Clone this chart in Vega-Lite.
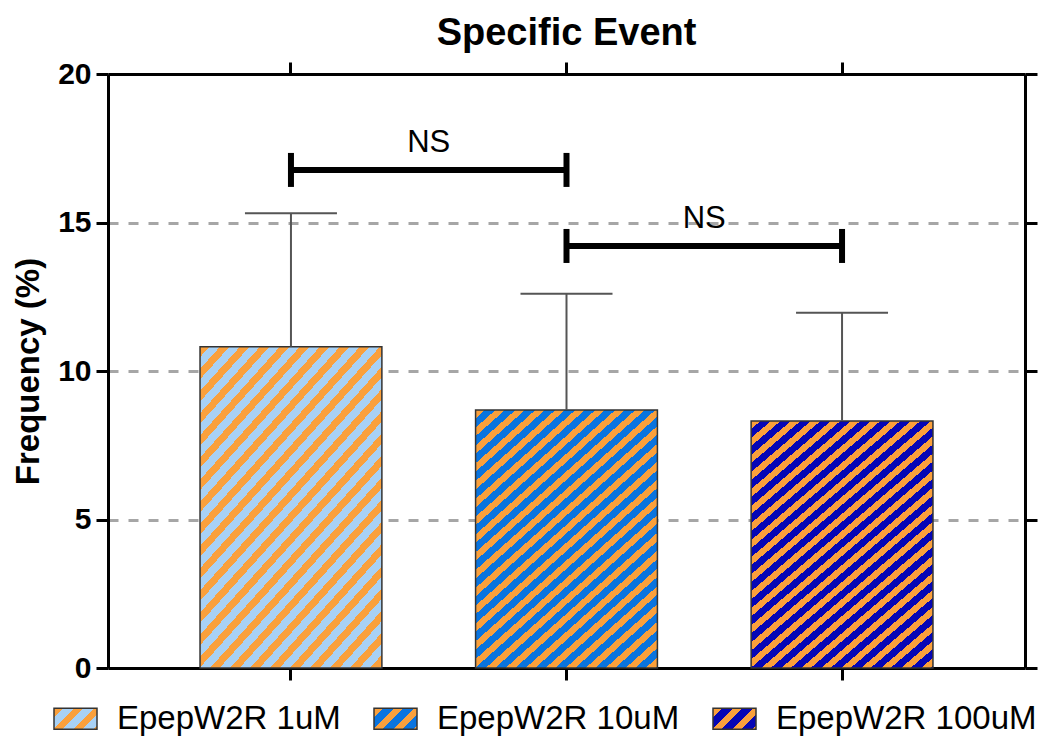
{
  "$schema": "https://vega.github.io/schema/vega-lite/v6.json",
  "width": 917,
  "height": 594,
  "autosize": {"type": "none"},
  "padding": {"left": 108, "top": 74, "right": 19, "bottom": 68},
  "background": "white",
  "title": {"text": "Specific Event", "fontSize": 38, "fontWeight": "bold", "font": "Liberation Sans", "color": "#000", "anchor": "middle", "frame": "group", "baseline": "alphabetic", "offset": -24},
  "params": [
    {"name": "lg1", "value": {"gradient": "linear", "x1": 0, "y1": 0, "x2": 1.2, "y2": 0.587, "stops": [{"offset": 0, "color": "#faa03c"}, {"offset": 0.14, "color": "#faa03c"}, {"offset": 0.14, "color": "#a8d1f5"}, {"offset": 0.3125, "color": "#a8d1f5"}, {"offset": 0.3125, "color": "#faa03c"}, {"offset": 0.4525, "color": "#faa03c"}, {"offset": 0.4525, "color": "#a8d1f5"}, {"offset": 0.625, "color": "#a8d1f5"}, {"offset": 0.625, "color": "#faa03c"}, {"offset": 0.765, "color": "#faa03c"}, {"offset": 0.765, "color": "#a8d1f5"}, {"offset": 0.9375, "color": "#a8d1f5"}, {"offset": 0.9375, "color": "#faa03c"}, {"offset": 1, "color": "#faa03c"}]}},
    {"name": "lg2", "value": {"gradient": "linear", "x1": 0, "y1": 0, "x2": 1.2, "y2": 0.587, "stops": [{"offset": 0, "color": "#faa03c"}, {"offset": 0.14, "color": "#faa03c"}, {"offset": 0.14, "color": "#0a74df"}, {"offset": 0.3125, "color": "#0a74df"}, {"offset": 0.3125, "color": "#faa03c"}, {"offset": 0.4525, "color": "#faa03c"}, {"offset": 0.4525, "color": "#0a74df"}, {"offset": 0.625, "color": "#0a74df"}, {"offset": 0.625, "color": "#faa03c"}, {"offset": 0.765, "color": "#faa03c"}, {"offset": 0.765, "color": "#0a74df"}, {"offset": 0.9375, "color": "#0a74df"}, {"offset": 0.9375, "color": "#faa03c"}, {"offset": 1, "color": "#faa03c"}]}},
    {"name": "lg3", "value": {"gradient": "linear", "x1": 0, "y1": 0, "x2": 1.2, "y2": 0.587, "stops": [{"offset": 0, "color": "#faa03c"}, {"offset": 0.14, "color": "#faa03c"}, {"offset": 0.14, "color": "#0606b5"}, {"offset": 0.3125, "color": "#0606b5"}, {"offset": 0.3125, "color": "#faa03c"}, {"offset": 0.4525, "color": "#faa03c"}, {"offset": 0.4525, "color": "#0606b5"}, {"offset": 0.625, "color": "#0606b5"}, {"offset": 0.625, "color": "#faa03c"}, {"offset": 0.765, "color": "#faa03c"}, {"offset": 0.765, "color": "#0606b5"}, {"offset": 0.9375, "color": "#0606b5"}, {"offset": 0.9375, "color": "#faa03c"}, {"offset": 1, "color": "#faa03c"}]}},
    {"name": "hatch", "value": {"gradient": "linear", "x1": 0, "y1": 0, "x2": 0.7763, "y2": 1.237, "stops": [
      {"offset": 0, "color": "#faa03c"}, {"offset": 0.019, "color": "#faa03c"}, {"offset": 0.019, "color": "rgba(255,255,255,0)"}, {"offset": 0.04, "color": "rgba(255,255,255,0)"},
      {"offset": 0.04, "color": "#faa03c"}, {"offset": 0.059, "color": "#faa03c"}, {"offset": 0.059, "color": "rgba(255,255,255,0)"}, {"offset": 0.08, "color": "rgba(255,255,255,0)"},
      {"offset": 0.08, "color": "#faa03c"}, {"offset": 0.099, "color": "#faa03c"}, {"offset": 0.099, "color": "rgba(255,255,255,0)"}, {"offset": 0.12, "color": "rgba(255,255,255,0)"},
      {"offset": 0.12, "color": "#faa03c"}, {"offset": 0.139, "color": "#faa03c"}, {"offset": 0.139, "color": "rgba(255,255,255,0)"}, {"offset": 0.16, "color": "rgba(255,255,255,0)"},
      {"offset": 0.16, "color": "#faa03c"}, {"offset": 0.179, "color": "#faa03c"}, {"offset": 0.179, "color": "rgba(255,255,255,0)"}, {"offset": 0.2, "color": "rgba(255,255,255,0)"},
      {"offset": 0.2, "color": "#faa03c"}, {"offset": 0.219, "color": "#faa03c"}, {"offset": 0.219, "color": "rgba(255,255,255,0)"}, {"offset": 0.24, "color": "rgba(255,255,255,0)"},
      {"offset": 0.24, "color": "#faa03c"}, {"offset": 0.259, "color": "#faa03c"}, {"offset": 0.259, "color": "rgba(255,255,255,0)"}, {"offset": 0.28, "color": "rgba(255,255,255,0)"},
      {"offset": 0.28, "color": "#faa03c"}, {"offset": 0.299, "color": "#faa03c"}, {"offset": 0.299, "color": "rgba(255,255,255,0)"}, {"offset": 0.32, "color": "rgba(255,255,255,0)"},
      {"offset": 0.32, "color": "#faa03c"}, {"offset": 0.339, "color": "#faa03c"}, {"offset": 0.339, "color": "rgba(255,255,255,0)"}, {"offset": 0.36, "color": "rgba(255,255,255,0)"},
      {"offset": 0.36, "color": "#faa03c"}, {"offset": 0.379, "color": "#faa03c"}, {"offset": 0.379, "color": "rgba(255,255,255,0)"}, {"offset": 0.4, "color": "rgba(255,255,255,0)"},
      {"offset": 0.4, "color": "#faa03c"}, {"offset": 0.419, "color": "#faa03c"}, {"offset": 0.419, "color": "rgba(255,255,255,0)"}, {"offset": 0.44, "color": "rgba(255,255,255,0)"},
      {"offset": 0.44, "color": "#faa03c"}, {"offset": 0.459, "color": "#faa03c"}, {"offset": 0.459, "color": "rgba(255,255,255,0)"}, {"offset": 0.48, "color": "rgba(255,255,255,0)"},
      {"offset": 0.48, "color": "#faa03c"}, {"offset": 0.499, "color": "#faa03c"}, {"offset": 0.499, "color": "rgba(255,255,255,0)"}, {"offset": 0.52, "color": "rgba(255,255,255,0)"},
      {"offset": 0.52, "color": "#faa03c"}, {"offset": 0.539, "color": "#faa03c"}, {"offset": 0.539, "color": "rgba(255,255,255,0)"}, {"offset": 0.56, "color": "rgba(255,255,255,0)"},
      {"offset": 0.56, "color": "#faa03c"}, {"offset": 0.579, "color": "#faa03c"}, {"offset": 0.579, "color": "rgba(255,255,255,0)"}, {"offset": 0.6, "color": "rgba(255,255,255,0)"},
      {"offset": 0.6, "color": "#faa03c"}, {"offset": 0.619, "color": "#faa03c"}, {"offset": 0.619, "color": "rgba(255,255,255,0)"}, {"offset": 0.64, "color": "rgba(255,255,255,0)"},
      {"offset": 0.64, "color": "#faa03c"}, {"offset": 0.659, "color": "#faa03c"}, {"offset": 0.659, "color": "rgba(255,255,255,0)"}, {"offset": 0.68, "color": "rgba(255,255,255,0)"},
      {"offset": 0.68, "color": "#faa03c"}, {"offset": 0.699, "color": "#faa03c"}, {"offset": 0.699, "color": "rgba(255,255,255,0)"}, {"offset": 0.72, "color": "rgba(255,255,255,0)"},
      {"offset": 0.72, "color": "#faa03c"}, {"offset": 0.739, "color": "#faa03c"}, {"offset": 0.739, "color": "rgba(255,255,255,0)"}, {"offset": 0.76, "color": "rgba(255,255,255,0)"},
      {"offset": 0.76, "color": "#faa03c"}, {"offset": 0.779, "color": "#faa03c"}, {"offset": 0.779, "color": "rgba(255,255,255,0)"}, {"offset": 0.8, "color": "rgba(255,255,255,0)"},
      {"offset": 0.8, "color": "#faa03c"}, {"offset": 0.819, "color": "#faa03c"}, {"offset": 0.819, "color": "rgba(255,255,255,0)"}, {"offset": 0.84, "color": "rgba(255,255,255,0)"},
      {"offset": 0.84, "color": "#faa03c"}, {"offset": 0.859, "color": "#faa03c"}, {"offset": 0.859, "color": "rgba(255,255,255,0)"}, {"offset": 0.88, "color": "rgba(255,255,255,0)"},
      {"offset": 0.88, "color": "#faa03c"}, {"offset": 0.899, "color": "#faa03c"}, {"offset": 0.899, "color": "rgba(255,255,255,0)"}, {"offset": 0.92, "color": "rgba(255,255,255,0)"},
      {"offset": 0.92, "color": "#faa03c"}, {"offset": 0.939, "color": "#faa03c"}, {"offset": 0.939, "color": "rgba(255,255,255,0)"}, {"offset": 0.96, "color": "rgba(255,255,255,0)"},
      {"offset": 0.96, "color": "#faa03c"}, {"offset": 0.979, "color": "#faa03c"}, {"offset": 0.979, "color": "rgba(255,255,255,0)"}, {"offset": 1, "color": "rgba(255,255,255,0)"}
    ]}}
  ],
  "datasets": {
    "bars": [
      {"group": "EpepW2R 1uM", "mean": 10.82, "upper": 15.31},
      {"group": "EpepW2R 10uM", "mean": 8.69, "upper": 12.6},
      {"group": "EpepW2R 100uM", "mean": 8.32, "upper": 11.96}
    ],
    "brackets": [
      {"from": "EpepW2R 1uM", "to": "EpepW2R 10uM", "y": 16.77, "label": "NS"},
      {"from": "EpepW2R 10uM", "to": "EpepW2R 100uM", "y": 14.21, "label": "NS"}
    ]
  },
  "config": {
    "view": {"stroke": null},
    "font": "Liberation Sans",
    "axis": {"domainColor": "#000", "tickColor": "#000", "labelColor": "#000", "titleColor": "#000", "labelFont": "Liberation Sans", "titleFont": "Liberation Sans"}
  },
  "layer": [
    {
      "data": {"name": "bars"},
      "mark": {"type": "bar"},
      "encoding": {
        "x": {"field": "group", "type": "nominal", "sort": null,
              "scale": {"domain": ["EpepW2R 1uM", "EpepW2R 10uM", "EpepW2R 100uM"], "paddingInner": 0.34, "paddingOuter": 0.334},
              "axis": {"orient": "bottom", "labels": false, "title": null, "tickSize": 12, "tickWidth": 3, "domainWidth": 3, "grid": false}},
        "y": {"field": "mean", "type": "quantitative",
              "scale": {"domain": [0, 20], "nice": false, "zero": true},
              "axis": {"orient": "left", "values": [0, 5, 10, 15, 20], "title": "Frequency (%)", "titleFontSize": 33, "titleFontWeight": "bold", "titlePadding": 12,
                       "labelFontSize": 30, "labelFontWeight": "bold", "labelPadding": 5, "tickSize": 12, "tickWidth": 3, "domainWidth": 3,
                       "grid": true, "gridDash": [10, 10], "gridWidth": 3, "gridColor": "#a6a6a6"}},
        "fill": {"condition": [{"test": "datum.group === 'EpepW2R 1uM'", "value": "#a8d1f5"}, {"test": "datum.group === 'EpepW2R 10uM'", "value": "#0a74df"}], "value": "#0606b5"}
      }
    },
    {
      "data": {"name": "bars"},
      "mark": {"type": "bar", "strokeWidth": 1.5,
               "fill": {"expr": "datum.group ? hatch : (datum.value === 'EpepW2R 1uM' ? lg1 : (datum.value === 'EpepW2R 10uM' ? lg2 : lg3))"}},
      "encoding": {
        "x": {"field": "group", "type": "nominal", "sort": null, "axis": null, "scale": {"domain": ["EpepW2R 1uM", "EpepW2R 10uM", "EpepW2R 100uM"]}},
        "y": {"field": "mean", "type": "quantitative", "axis": null},
        "stroke": {"field": "group", "type": "nominal", "sort": null,
                   "scale": {"domain": ["EpepW2R 1uM", "EpepW2R 10uM", "EpepW2R 100uM"], "range": ["#333333", "#333333", "#333333"]},
                   "legend": {"orient": "none", "legendX": -55, "legendY": 622, "direction": "horizontal", "columns": 3, "title": null,
                              "symbolType": "M-1,-0.49H1V0.49H-1Z", "symbolSize": 1849, "symbolStrokeWidth": 1.5, "symbolOpacity": 1,
                              "labelFontSize": 33, "labelFont": "Liberation Sans", "labelColor": "#000", "labelOffset": 19, "labelLimit": 400, "columnPadding": 30}}
      }
    },
    {
      "data": {"name": "bars"},
      "mark": {"type": "rule", "color": "#555", "strokeWidth": 2},
      "encoding": {
        "x": {"field": "group", "type": "nominal", "sort": null, "axis": null, "scale": {"domain": ["EpepW2R 1uM", "EpepW2R 10uM", "EpepW2R 100uM"]}},
        "y": {"field": "mean", "type": "quantitative", "axis": null},
        "y2": {"field": "upper"}
      }
    },
    {
      "data": {"name": "bars"},
      "mark": {"type": "tick", "color": "#555", "size": 92, "thickness": 2, "orient": "horizontal", "opacity": 1},
      "encoding": {
        "x": {"field": "group", "type": "nominal", "sort": null, "axis": null, "scale": {"domain": ["EpepW2R 1uM", "EpepW2R 10uM", "EpepW2R 100uM"]}},
        "y": {"field": "upper", "type": "quantitative", "axis": null}
      }
    },
    {
      "data": {"name": "brackets"},
      "mark": {"type": "rule", "color": "#000", "strokeWidth": 6},
      "encoding": {
        "x": {"field": "from", "type": "nominal", "sort": null, "axis": null, "scale": {"domain": ["EpepW2R 1uM", "EpepW2R 10uM", "EpepW2R 100uM"]}},
        "x2": {"field": "to"},
        "y": {"field": "y", "type": "quantitative", "axis": null}
      }
    },
    {
      "data": {"name": "brackets"},
      "mark": {"type": "tick", "color": "#000", "size": 34, "thickness": 6, "orient": "vertical", "opacity": 1},
      "encoding": {
        "x": {"field": "from", "type": "nominal", "sort": null, "axis": null, "scale": {"domain": ["EpepW2R 1uM", "EpepW2R 10uM", "EpepW2R 100uM"]}},
        "y": {"field": "y", "type": "quantitative", "axis": null}
      }
    },
    {
      "data": {"name": "brackets"},
      "mark": {"type": "tick", "color": "#000", "size": 34, "thickness": 6, "orient": "vertical", "opacity": 1},
      "encoding": {
        "x": {"field": "to", "type": "nominal", "sort": null, "axis": null, "scale": {"domain": ["EpepW2R 1uM", "EpepW2R 10uM", "EpepW2R 100uM"]}},
        "y": {"field": "y", "type": "quantitative", "axis": null}
      }
    },
    {
      "data": {"name": "brackets"},
      "mark": {"type": "text", "fontSize": 31, "font": "Liberation Sans", "color": "#000", "baseline": "alphabetic", "align": "center", "dy": -18, "xOffset": 137.75},
      "encoding": {
        "x": {"field": "from", "type": "nominal", "sort": null, "axis": null, "scale": {"domain": ["EpepW2R 1uM", "EpepW2R 10uM", "EpepW2R 100uM"]}},
        "y": {"field": "y", "type": "quantitative", "axis": null},
        "text": {"field": "label"}
      }
    },
    {
      "data": {"name": "bars"},
      "mark": {"type": "point", "opacity": 0},
      "encoding": {
        "x": {"field": "group", "type": "nominal", "sort": null, "scale": {"domain": ["EpepW2R 1uM", "EpepW2R 10uM", "EpepW2R 100uM"]},
              "axis": {"orient": "top", "labels": false, "title": null, "tickSize": 12, "tickWidth": 3, "domainWidth": 3, "grid": false}},
        "y": {"field": "mean", "type": "quantitative",
              "axis": {"orient": "right", "values": [0, 5, 10, 15, 20], "labels": false, "title": null, "tickSize": 12, "tickWidth": 3, "domainWidth": 3, "grid": false}}
      }
    }
  ]
}
